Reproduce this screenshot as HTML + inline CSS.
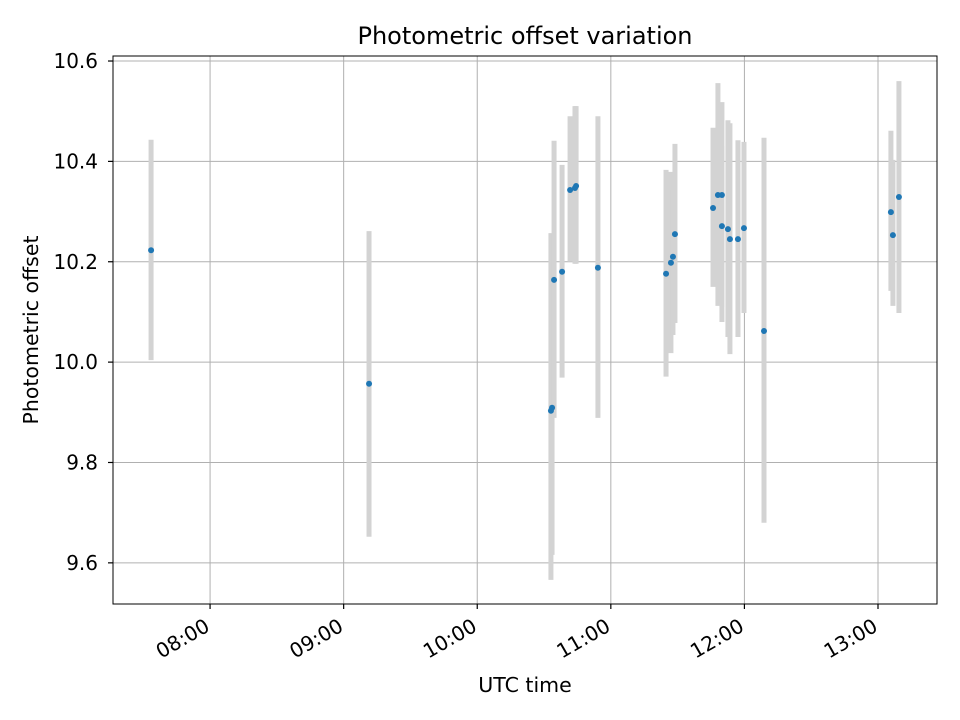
<!DOCTYPE html>
<html><head><meta charset="utf-8"><style>
html,body{margin:0;padding:0;background:#fff;}
svg{display:block;font-family:"DejaVu Sans","Liberation Sans",sans-serif;}
</style></head><body>
<svg id="chart" width="960" height="720" viewBox="0 0 960 720" xmlns="http://www.w3.org/2000/svg">
<rect width="960" height="720" fill="#fff"/>
<g id="grid"></g>
<g id="bars"></g>
<g id="pts"></g>
<rect x="113" y="56" width="824" height="548" fill="none" stroke="#000" stroke-width="1"/>
<g id="axes"></g>
<text x="525" y="44" font-size="24" text-anchor="middle">Photometric offset variation</text>
<text x="525" y="692" font-size="20.5" text-anchor="middle">UTC time</text>
<text transform="translate(38,330) rotate(-90)" font-size="20.5" text-anchor="middle">Photometric offset</text>
</svg>
<script>
// minutes since midnight UTC
const times = [453.5,551.4,633.1,633.6,634.5,638.1,641.7,644.4,643.9,654.2,684.8,687.0,687.9,688.8,705.9,708.1,709.9,709.9,712.6,713.5,717.1,719.8,728.8,785.8,786.7,789.4];
const values = [10.223,9.957,9.903,9.909,10.164,10.180,10.343,10.351,10.347,10.188,10.176,10.198,10.210,10.255,10.307,10.333,10.333,10.271,10.265,10.245,10.245,10.267,10.062,10.299,10.253,10.329];
const lower = [10.004,9.652,9.566,9.616,9.889,9.969,10.200,10.196,10.196,9.889,9.971,10.018,10.054,10.078,10.150,10.112,10.080,10.110,10.050,10.016,10.050,10.098,9.680,10.142,10.112,10.098];
const upper = [10.443,10.261,10.257,10.204,10.441,10.393,10.490,10.510,10.510,10.490,10.383,10.379,10.343,10.435,10.467,10.556,10.518,10.430,10.482,10.476,10.442,10.439,10.447,10.461,10.403,10.560];
const xTicks = [480,540,600,660,720,780];
const xTickLabels = ["08:00","09:00","10:00","11:00","12:00","13:00"];
const yTicks = [9.6,9.8,10.0,10.2,10.4,10.6];
const yTickLabels = ["9.6","9.8","10.0","10.2","10.4","10.6"];

const X0=113,X1=937,Y0=56,Y1=604;
const xMin=436.4,xMax=806.5,yMin=9.518,yMax=10.61;
const xs=t=>X0+(t-xMin)/(xMax-xMin)*(X1-X0);
const ys=v=>Y1-(v-yMin)/(yMax-yMin)*(Y1-Y0);
const NS="http://www.w3.org/2000/svg";
function mk(tag,attrs,parent){const e=document.createElementNS(NS,tag);for(const k in attrs)e.setAttribute(k,attrs[k]);parent.appendChild(e);return e;}
const grid=document.getElementById('grid'),axes=document.getElementById('axes'),bars=document.getElementById('bars'),pts=document.getElementById('pts');
xTicks.forEach((t,i)=>{
  const x=xs(t);
  const g=mk('line',{x1:x,x2:x,y1:Y0,y2:Y1,stroke:'#b0b0b0','stroke-width':1},grid);
  
  
  const tk=mk('line',{x1:x,x2:x,y1:Y1,y2:Y1+5,stroke:'#000','stroke-width':1.2},axes);
  
  
  const tx=mk('text',{x:0,y:0,'font-size':20,'text-anchor':'end',transform:`translate(${x+1},${Y1+26}) rotate(-30)`},axes);
  tx.textContent=xTickLabels[i];
  
  
});
yTicks.forEach((v,i)=>{
  const y=ys(v);
  const g=mk('line',{x1:X0,x2:X1,y1:y,y2:y,stroke:'#b0b0b0','stroke-width':1},grid);
  
  
  const tk=mk('line',{x1:X0-5,x2:X0,y1:y,y2:y,stroke:'#000','stroke-width':1.2},axes);
  
  
  const tx=mk('text',{x:X0-15,y:y+7,'font-size':20,'text-anchor':'end'},axes);
  tx.textContent=yTickLabels[i];
  
  
});
times.forEach((t,i)=>{
  const x=xs(t);
  const b=mk('line',{x1:x,x2:x,y1:ys(upper[i]),y2:ys(lower[i]),stroke:'#d3d3d3','stroke-width':5},bars);
  
  
});
times.forEach((t,i)=>{
  const c=mk('circle',{cx:xs(t),cy:ys(values[i]),r:3,fill:'#1f77b4'},pts);
  
  
});
</script>
</body></html>
